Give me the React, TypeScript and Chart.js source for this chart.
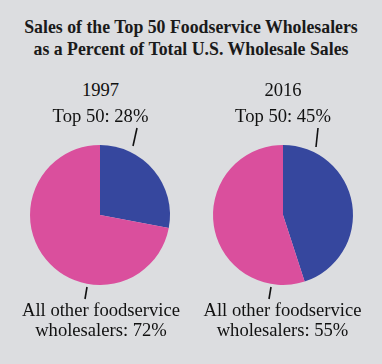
import React, { useEffect, useRef } from "react";
import { Chart, registerables } from "chart.js";

Chart.register(...registerables);

const categories = ["Top 50", "All other foodservice wholesalers"];
const years = ["1997", "2016"];
const values1997 = [28, 72];
const values2016 = [45, 55];
const sliceColors = ["#36479e", "#da4f9d"];
const title = ["Sales of the Top 50 Foodservice Wholesalers", "as a Percent of Total U.S. Wholesale Sales"];

const BG = "#dcdde0";
const FONT = "'Liberation Serif', 'Times New Roman', serif";

// leader lines relative to pie centre
const leaderPlugin = {
  id: "leaders",
  afterDraw(chart: any) {
    const meta = chart.getDatasetMeta(0);
    const arc = meta.data[0];
    if (!arc) return;
    const cx = arc.x;
    const cy = arc.y;
    const r = arc.outerRadius;
    const ctx = chart.ctx;
    ctx.save();
    ctx.strokeStyle = "#111";
    ctx.lineWidth = 1.6;
    const lines = chart.options.plugins.leaders.lines as number[][];
    lines.forEach((l) => {
      ctx.beginPath();
      ctx.moveTo(cx + l[0] * r, cy + l[1] * r);
      ctx.lineTo(cx + l[2] * r, cy + l[3] * r);
      ctx.stroke();
    });
    ctx.restore();
  },
};

function Pie({ values, left, padding, lines }: any) {
  const ref = useRef<HTMLCanvasElement>(null);
  useEffect(() => {
    const chart = new Chart(ref.current!, {
      type: "pie",
      data: {
        labels: categories,
        datasets: [
          {
            data: values,
            backgroundColor: sliceColors,
            borderWidth: 0,
          },
        ],
      },
      options: {
        animation: false,
        responsive: false,
        maintainAspectRatio: false,
        layout: { padding },
        plugins: {
          legend: { display: false },
          tooltip: { enabled: false },
          leaders: { lines },
        } as any,
      },
      plugins: [leaderPlugin],
    });
    return () => chart.destroy();
  }, []);
  return (
    <canvas
      ref={ref}
      width={191}
      height={190}
      style={{ position: "absolute", left, top: 120, width: 191, height: 190 }}
    />
  );
}

export default function App() {
  useEffect(() => {
    document.body.style.margin = "0";
  }, []);
  const textBlock = (cx: number, top: number, lines: string[], extra: any = {}) => (
    <div
      style={{
        position: "absolute",
        left: cx - 95,
        width: 190,
        top,
        textAlign: "center",
        fontFamily: FONT,
        fontSize: 18.6,
        lineHeight: "20px",
        color: "#111",
        whiteSpace: "nowrap",
        ...extra,
      }}
    >
      {lines.map((t, i) => (
        <div key={i}>{t}</div>
      ))}
    </div>
  );
  return (
    <div style={{ position: "relative", width: 382, height: 364, background: BG, overflow: "hidden" }}>
      <div
        style={{
          position: "absolute",
          left: 0,
          width: 382,
          top: 16,
          textAlign: "center",
          fontFamily: FONT,
          fontWeight: "bold",
          fontSize: 17.8,
          lineHeight: "22px",
          color: "#1a1a1a",
          whiteSpace: "nowrap",
        }}
      >
        <div>{title[0]}</div>
        <div>{title[1]}</div>
      </div>
      <Pie
        values={values1997}
        left={0}
        padding={{ left: 30, right: 21, top: 25, bottom: 25 }}
        lines={[
          [37 / 70, -87 / 70, 33 / 70, -69 / 70],
          [-13 / 70, 72 / 70, -15 / 70, 84 / 70],
        ]}
      />
      <Pie
        values={values2016}
        left={191}
        padding={{ left: 22, right: 29, top: 25, bottom: 25 }}
        lines={[
          [35 / 70, -87 / 70, 33 / 70, -68 / 70],
          [-12 / 70, 72 / 70, -14 / 70, 84 / 70],
        ]}
      />
      {textBlock(100.5, 80, [years[0]])}
      {textBlock(100.5, 106, [`${categories[0]}: ${values1997[0]}%`])}
      {textBlock(283, 80, [years[1]])}
      {textBlock(283, 106, [`${categories[0]}: ${values2016[0]}%`])}
      {textBlock(101, 300, ["All other foodservice", `wholesalers: ${values1997[1]}%`])}
      {textBlock(282.5, 300, ["All other foodservice", `wholesalers: ${values2016[1]}%`])}
    </div>
  );
}
